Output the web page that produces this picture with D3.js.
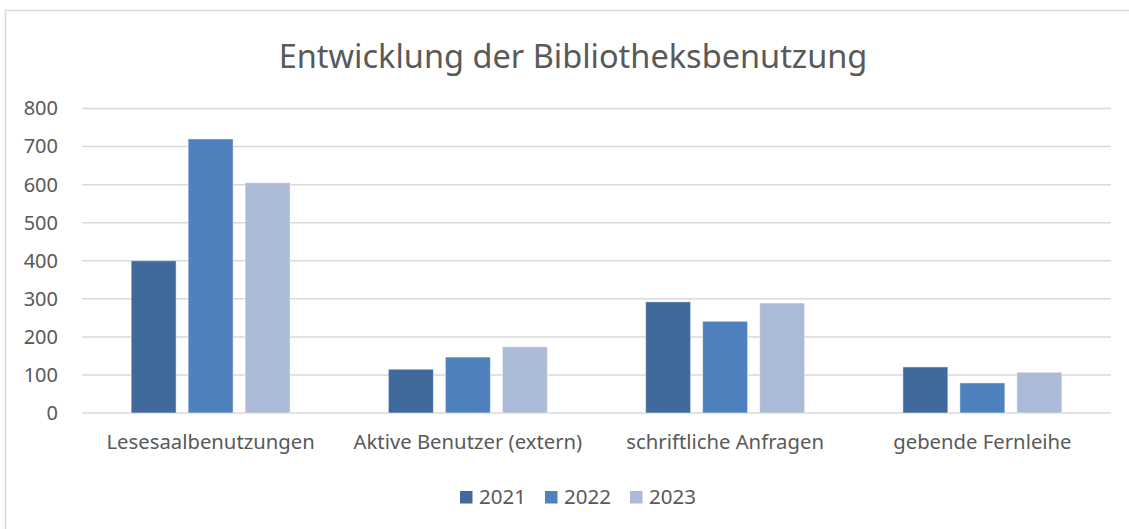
<!DOCTYPE html>
<html>
<head>
<meta charset="utf-8">
<script src="https://cdn.jsdelivr.net/npm/d3@7"></script>
<style>
  body { margin: 0; background: #fff; }
  svg { display: block; font-family: "Noto Sans", "Open Sans", sans-serif; }
</style>
</head>
<body>
<div id="chart"></div>
<script>
// chart data
const categories = ["Lesesaalbenutzungen", "Aktive Benutzer (extern)", "schriftliche Anfragen", "gebende Fernleihe"];
const years = ["2021", "2022", "2023"];
const values2021 = [400, 115, 292, 121];
const values2022 = [720, 147, 241, 79];
const values2023 = [605, 174, 289, 107];
const yTicks = [0, 100, 200, 300, 400, 500, 600, 700, 800];

const series = [values2021, values2022, values2023];
const colors = ["#3F6A9B", "#4E81BD", "#ABBAD7"];

const W = 1129, H = 529;
const margin = { top: 108.5, right: 18, bottom: 116, left: 82 };
const width = W - margin.left - margin.right;
const height = H - margin.top - margin.bottom;

const svg = d3.select('#chart').append('svg')
    .attr('width', W)
    .attr('height', H);

// outer frame
svg.append('rect')
    .attr('x', 5.5).attr('y', 10.5)
    .attr('width', W + 10).attr('height', H + 10)
    .attr('fill', 'none')
    .attr('stroke', '#d9d9d9')
    .attr('stroke-width', 1.5);

// title
svg.append('text')
    .attr('x', 573).attr('y', 68)
    .attr('text-anchor', 'middle')
    .attr('fill', '#595959')
    .style('font-size', '32.5px')
    .text('Entwicklung der Bibliotheksbenutzung');

const g = svg.append('g')
    .attr('transform', `translate(${margin.left}, ${margin.top})`);

// scales
let x0 = d3.scaleBand().domain(categories).range([0, width]).paddingInner(0).paddingOuter(0);
let yScale = d3.scaleLinear().domain([0, 800]).range([height, 0]);

// grid lines
g.selectAll('.grid')
    .data(yTicks)
    .enter()
    .append('line')
    .attr('x1', 0).attr('x2', width)
    .attr('y1', d => yScale(d)).attr('y2', d => yScale(d))
    .attr('stroke', '#d9d9d9')
    .attr('stroke-width', 1.5);

// y axis labels
let yAxis = g.append('g')
    .call(d3.axisLeft(yScale).tickValues(yTicks).tickSize(0).tickPadding(24));
yAxis.select('.domain').remove();
yAxis.selectAll('text')
    .attr('fill', '#595959')
    .style('font-size', '20px')
    .style('font-family', '"Noto Sans", "Open Sans", sans-serif');

// x axis labels
let xAxis = g.append('g')
    .attr('transform', `translate(0, ${height})`)
    .call(d3.axisBottom(x0).tickSize(0).tickPadding(22));
xAxis.select('.domain').remove();
xAxis.selectAll('text')
    .attr('fill', '#595959')
    .style('font-size', '20.3px')
    .style('font-family', '"Noto Sans", "Open Sans", sans-serif');

// bars
const barW = 45, gap = 12;
series.forEach((vals, s) => {
    g.selectAll('.bar' + s)
        .data(vals)
        .enter()
        .append('rect')
        .attr('x', (d, i) => x0(categories[i]) + x0.bandwidth() / 2 + (s - 1) * (barW + gap) - barW / 2)
        .attr('y', d => yScale(d))
        .attr('width', barW)
        .attr('height', d => height - yScale(d))
        .attr('fill', colors[s])
        .attr('stroke', '#ffffff')
        .attr('stroke-opacity', 0.5)
        .attr('stroke-width', 1);
});

// legend
const legendX = [460, 545, 630];
const legend = svg.selectAll('.legend')
    .data(years)
    .enter()
    .append('g')
    .attr('transform', (d, i) => `translate(${legendX[i]}, 491)`);
legend.append('rect')
    .attr('width', 12.5).attr('height', 12.5)
    .attr('fill', (d, i) => colors[i]);
legend.append('text')
    .attr('x', 19).attr('y', 13)
    .attr('fill', '#595959')
    .style('font-size', '20.5px')
    .text(d => d);
</script>
</body>
</html>
